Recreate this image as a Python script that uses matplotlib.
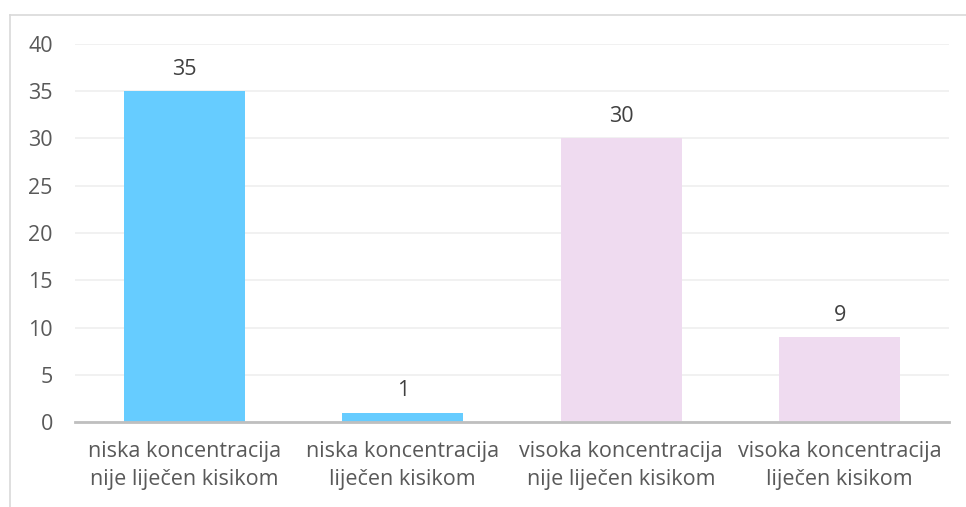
import matplotlib
matplotlib.use("Agg")
import matplotlib.pyplot as plt
from matplotlib.lines import Line2D

# Broj pacijenata po skupini
categories = [
    "niska koncentracija\nnije liječen kisikom",
    "niska koncentracija\nliječen kisikom",
    "visoka koncentracija\nnije liječen kisikom",
    "visoka koncentracija\nliječen kisikom",
]
values = [35, 1, 30, 9]
colors = ["#66CCFF", "#66CCFF", "#EFDBF0", "#EFDBF0"]
yticks = [0, 5, 10, 15, 20, 25, 30, 35, 40]

plt.rcParams['font.family'] = ['Open Sans', 'DejaVu Sans']
text_color = "#595959"
fs = 15.5

fig = plt.figure(figsize=(9.66, 5.07), dpi=100)
ax = fig.add_axes([75 / 966, 1 - 422 / 507, 874 / 966, (422 - 44) / 507])

x = range(len(values))
bars = ax.bar(x, values, width=0.555, color=colors, zorder=2)

for rect, v in zip(bars, values):
    ax.annotate(str(v), (rect.get_x() + rect.get_width() / 2, v),
                xytext=(0, 8), textcoords="offset points",
                ha="center", va="bottom", fontsize=fs, color="#404040")

ax.set_xlim(-0.5, len(values) - 0.5)
ax.set_ylim(0, 40)
ax.set_yticks(yticks)
ax.set_xticks(list(x))
ax.set_xticklabels(categories, fontsize=fs, color=text_color, linespacing=1.4)
ax.tick_params(axis="y", length=0, pad=16, labelsize=fs, labelcolor=text_color)
ax.tick_params(axis="x", length=0, pad=14)

ax.grid(axis="y", color="#EFEFEF", linewidth=1.2, zorder=0)
for side in ["left", "right", "top"]:
    ax.spines[side].set_visible(False)
ax.spines["bottom"].set_color("#BFBFBF")
ax.spines["bottom"].set_linewidth(2)
ax.spines["bottom"].set_zorder(3)

# okvir grafikona
fig.add_artist(Line2D([10 / 966, 10 / 966], [0, 1 - 15 / 507], transform=fig.transFigure,
                      color="#D9D9D9", linewidth=1.2))
fig.add_artist(Line2D([10 / 966, 1], [1 - 15 / 507, 1 - 15 / 507], transform=fig.transFigure,
                      color="#D9D9D9", linewidth=1.2))

fig.savefig("out.png", dpi=100)
